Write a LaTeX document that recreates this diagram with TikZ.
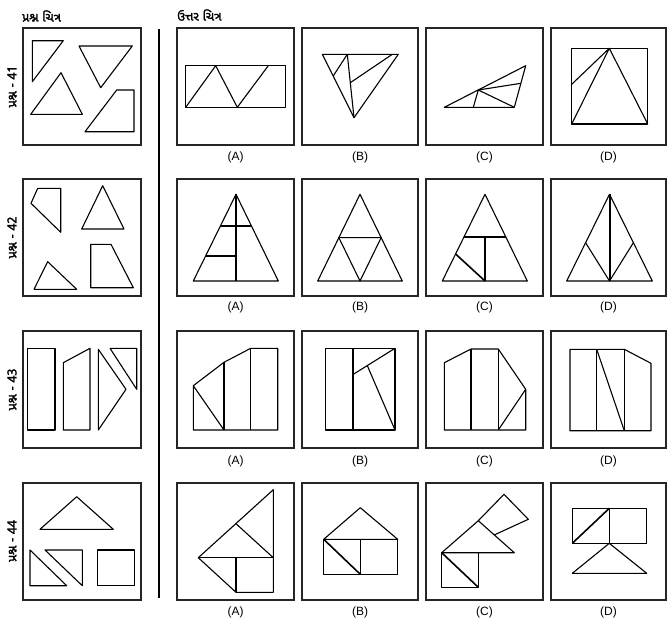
\documentclass[tikz,border=0pt]{standalone}
\usepackage{fontspec}
\setmainfont{Liberation Sans}
\newfontfamily\guj[Script=Gujarati,AutoFakeBold=2]{Noto Sans Gujarati UI}
\begin{document}
\begin{tikzpicture}[x=1pt,y=-1pt,
  boxst/.style={draw=black!85,line width=1.2pt},
  fig/.style={line width=1.1pt,line join=round},
  boldln/.style={line width=2pt},
  medln/.style={line width=1.6pt},
  optlabel/.style={font=\fontsize{12}{14}\selectfont,inner sep=0pt},
  head/.style={font=\guj\bfseries\fontsize{12.5}{14}\selectfont,inner sep=0pt,anchor=west},
  qlabel/.style={font=\guj\bfseries\fontsize{12.5}{14}\selectfont,inner sep=0pt,rotate=90}]
\useasboundingbox (0,0) rectangle (667,619);

% headers
\node[head] (h1) at (22,16) {પ્રશ્ન ચિત્ર};
\node[head] (h2) at (177,15) {ઉત્તર ચિત્ર};

% separator
\coordinate (s1) at (159,29);
\coordinate (s2) at (159,598);
\draw[line width=1.9pt] (s1) -- (s2);

% question labels
\node[qlabel] (l41) at (12,86.5) {પ્રશ્ન - 41};
\node[qlabel] (l42) at (12,237.5) {પ્રશ્ન - 42};
\node[qlabel] (l43) at (12,389.5) {પ્રશ્ન - 43};
\node[qlabel] (l44) at (12,541) {પ્રશ્ન - 44};

% boxes
\foreach \t [count=\r] in {28,179,331,483}{
  \draw[boxst] (23,\t) rectangle (141,\t+117);
  \draw[boxst] (177,\t) rectangle (294,\t+117);
  \draw[boxst] (302,\t) rectangle (418,\t+117);
  \draw[boxst] (426,\t) rectangle (543,\t+117);
  \draw[boxst] (551,\t) rectangle (666,\t+117);
}
% option labels
\foreach \t/\n in {157/a,307/b,461/c,612/d}{
  \node[optlabel] (\n A) at (235.5,\t) {(A)};
  \node[optlabel] (\n B) at (360,\t) {(B)};
  \node[optlabel] (\n C) at (484.5,\t) {(C)};
  \node[optlabel] (\n D) at (608.5,\t) {(D)};
}

% ---------- Q41 ----------
\begin{scope}[shift={(23,28)},fig]
\draw (9.3,12.7)--(40.3,12.7)--(9.3,53.7)--cycle;
\draw (56,18)--(109.3,18)--(77.7,59.7)--cycle;
\draw (38,44.7)--(7.7,86.3)--(59.3,86.3)--cycle;
\draw (93.7,62)--(111,62)--(111,103.7)--(62,103.7)--cycle;
\end{scope}
\begin{scope}[shift={(177,28)},fig]
\draw (8.7,37.7) rectangle (108.7,79.3);
\draw (8.7,79.3)--(38.7,37.7)--(60.3,79.3)--(91.3,37.7);
\end{scope}
\begin{scope}[shift={(302,28)},fig]
\draw (20.3,26.3)--(96.3,26.3)--(52,89.7)--cycle;
\draw (45.3,26.3)--(52,89.7);
\draw (31.2,48)--(45.3,26.3);
\draw (48.3,54.7)--(90.3,26.3);
\end{scope}
\begin{scope}[shift={(426,28)},fig]
\draw (18.3,79.3)--(88.3,79.3)--(99.7,37.7)--cycle;
\draw (52.3,62)--(47.3,79.3);
\draw (52.3,62)--(88.3,79.3);
\draw (52.3,62)--(94.9,55.3);
\end{scope}
\begin{scope}[shift={(551,28)},fig]
\draw (20.7,20.3) rectangle (96.7,96);
\draw (20.7,96)--(58.3,20.3)--(96.7,96);
\draw (20.7,56.3)--(58.3,20.3);
\end{scope}

% ---------- Q42 ----------
\begin{scope}[shift={(23,179)},fig]
\draw (14.7,9.3)--(37.7,9.3)--(37.7,53.3)--(8,24.3)--cycle;
\draw (79.7,6.7)--(58.7,50)--(101,50)--cycle;
\draw (24.7,82.7)--(11,110.3)--(53.7,110.3)--cycle;
\draw (67.7,65.3)--(88,65.3)--(110.3,108.7)--(67.7,108.7)--cycle;
\end{scope}
\begin{scope}[shift={(177,179)},fig]
\draw (59,15.3)--(16.3,102)--(101.3,102)--cycle;
\draw[boldln] (59,15.3)--(59,102);
\draw[boldln] (43.5,46.7)--(74.3,46.7);
\draw[boldln] (28.6,77)--(59,77);
\end{scope}
\begin{scope}[shift={(302,179)},fig]
\draw (58,15.3)--(15.7,102)--(100.3,102)--cycle;
\draw (36.85,58.65)--(79.15,58.65)--(58,102)--cycle;
\end{scope}
\begin{scope}[shift={(426,179)},fig]
\draw (59,15.3)--(16.3,102)--(101.3,102)--cycle;
\draw (38,58)--(80,58);
\draw[boldln] (59,58)--(59,102);
\draw[medln] (29.6,75)--(59,102);
\end{scope}
\begin{scope}[shift={(551,179)},fig]
\draw (58.5,15.3)--(15.7,102)--(101.3,102)--cycle;
\draw[boldln] (58.5,15.3)--(58.5,102);
\draw (34.6,63.7)--(58.5,102)--(82.4,63.7);
\end{scope}

% ---------- Q43 ----------
\begin{scope}[shift={(23,331)},fig]
\draw (4.3,17.3) rectangle (32,99);
\draw (40.3,31.7)--(67,17.3)--(67,99)--(40.3,99)--cycle;
\draw (75.3,18.3)--(103,58.3)--(75.3,99)--cycle;
\draw (87,17.3)--(113.7,17.3)--(113.7,58.3)--cycle;
\end{scope}
\begin{scope}[shift={(177,331)},fig]
\draw (16.3,99)--(100.7,99)--(100.7,17.3)--(73.7,17.3)--(47,31.3)--(16.3,54.7)--cycle;
\draw (47,31.3)--(47,99);
\draw (73.7,17.3)--(73.7,99);
\draw (16.3,54.7)--(47,99);
\end{scope}
\begin{scope}[shift={(302,331)},fig]
\draw (23.7,17.3) rectangle (93,99);
\draw[boldln] (51.3,17.3)--(51.3,99);
\draw (51.3,43.3)--(93,17.3);
\draw (65.3,34.6)--(93,99);
\end{scope}
\begin{scope}[shift={(426,331)},fig]
\draw (18.3,31.7)--(45,18)--(72.3,18)--(99.7,58.3)--(99.7,99)--(18.3,99)--cycle;
\draw (45,18)--(45,99);
\draw (72.3,18)--(72.3,99);
\draw (72.3,99)--(99.7,58.3);
\end{scope}
\begin{scope}[shift={(551,331)},fig]
\draw (19,18.3)--(73.3,18.3)--(100,32.3)--(100,99.7)--(19,99.7)--cycle;
\draw (45.7,18.3)--(45.7,99.7);
\draw (73.3,18.3)--(73.3,99.7);
\draw (45.7,18.3)--(73.3,99.7);
\end{scope}

% ---------- Q44 ----------
\begin{scope}[shift={(23,483)},fig]
\draw (53.7,13.7)--(17,46.3)--(90.3,46.3)--cycle;
\draw (7,67)--(43.7,102.7)--(7,102.7)--cycle;
\draw (22,67)--(59.3,67)--(59.3,102.7)--cycle;
\draw (74.3,67) rectangle (111.3,102.7);
\end{scope}
\begin{scope}[shift={(177,483)},fig]
\draw (21.3,74.7)--(96.3,6.7)--(96.3,109.3)--(59,109.3)--cycle;
\draw (59,40.7)--(96.3,74.7);
\draw (21.3,74.7)--(96.3,74.7);
\draw (59,74.7)--(59,109.3);
\end{scope}
\begin{scope}[shift={(302,483)},fig]
\draw (21.7,56.3)--(58.3,24.7)--(95.7,56.3)--cycle;
\draw (21.7,56.3) rectangle (95.7,91.3);
\draw (58.3,56.3)--(58.3,91.3);
\draw[medln] (21.7,56.3)--(58.3,91.3);
\end{scope}
\begin{scope}[shift={(426,483)},fig]
\draw (15.7,69.7) rectangle (52.3,104.3);
\draw[medln] (15.7,69.7)--(52.3,104.3);
\draw (15.7,69.7)--(52.3,37.7)--(88.3,69.7)--cycle;
\draw (52.3,37.7)--(78,11.3)--(102.3,36.3)--(68.3,51.9);
\end{scope}
\begin{scope}[shift={(551,483)},fig]
\draw (21.3,25.3) rectangle (95.7,60.3);
\draw (58.3,25.3)--(58.3,60.3);
\draw[medln] (21.3,60.3)--(58.3,25.3);
\draw (58.3,60.3)--(21.3,90.3)--(95.7,90.3)--cycle;
\end{scope}
\end{tikzpicture}
\end{document}
